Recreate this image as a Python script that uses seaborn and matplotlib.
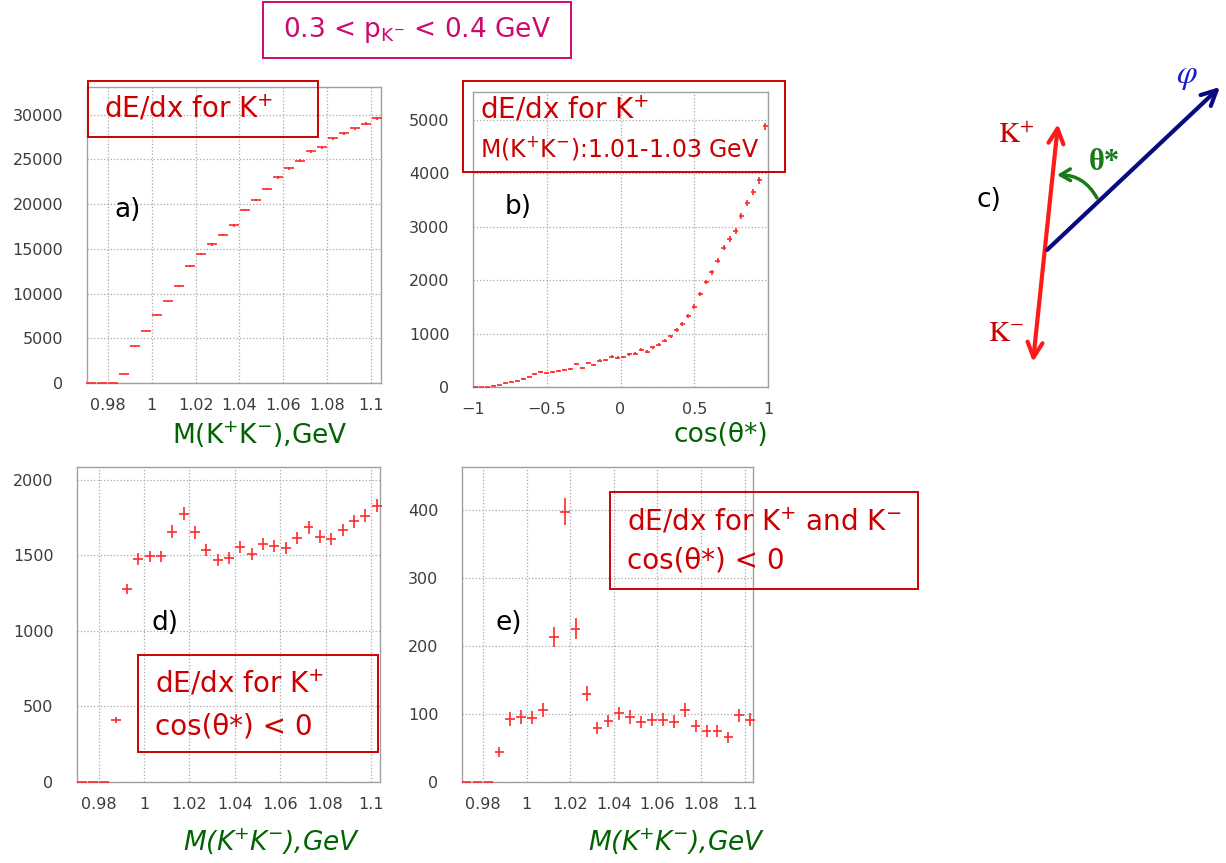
import numpy as np
import pandas as pd
import matplotlib
matplotlib.use("Agg")
import matplotlib.pyplot as plt
from matplotlib.patches import Rectangle
import seaborn as sns

# ---------------- data ----------------
mass_centers = [0.9725, 0.9775, 0.9825, 0.9875, 0.9925, 0.9975, 1.0025, 1.0075, 1.0125,
                1.0175, 1.0225, 1.0275, 1.0325, 1.0375, 1.0425, 1.0475, 1.0525, 1.0575,
                1.0625, 1.0675, 1.0725, 1.0775, 1.0825, 1.0875, 1.0925, 1.0975, 1.1025]
a_counts = [0, 0, 0, 1050, 4110, 5870, 7580, 9120, 10800, 13080, 14420, 15500, 16550, 17630,
            19320, 20470, 21710, 22980, 24020, 24880, 25930, 26340, 27350, 27950, 28510,
            28990, 29630]
a_err = [0, 0, 0, 30, 65, 75, 85, 95, 105, 115, 120, 125, 130, 135, 140, 145, 150, 150,
         155, 160, 160, 165, 165, 170, 170, 170, 170]

cos_centers = [-0.98, -0.94, -0.90, -0.86, -0.82, -0.78, -0.74, -0.70, -0.66, -0.62,
               -0.58, -0.54, -0.50, -0.46, -0.42, -0.38, -0.34, -0.30, -0.26, -0.22,
               -0.18, -0.14, -0.10, -0.06, -0.02, 0.02, 0.06, 0.10, 0.14, 0.18,
               0.22, 0.26, 0.30, 0.34, 0.38, 0.42, 0.46, 0.50, 0.54, 0.58,
               0.62, 0.66, 0.70, 0.74, 0.78, 0.82, 0.86, 0.90, 0.94, 0.98]
b_counts = [0, 0, 6, 25, 35, 69, 100, 119, 150, 194,
            244, 275, 269, 281, 306, 325, 344, 425, 356, 444,
            412, 494, 506, 569, 550, 562, 612, 625, 700, 662,
            744, 794, 862, 950, 1062, 1175, 1325, 1506, 1744, 1962,
            2150, 2362, 2606, 2774, 2918, 3198, 3447, 3647, 3865, 4875]
b_err = [0, 0, 3, 5, 6, 8, 10, 11, 12, 14,
         16, 17, 16, 17, 17, 18, 19, 21, 19, 21,
         20, 22, 22, 24, 23, 24, 25, 25, 26, 26,
         27, 28, 29, 31, 33, 34, 36, 39, 42, 44,
         46, 49, 51, 53, 54, 57, 59, 60, 62, 70]

d_counts = [0, 0, 0, 409, 1277, 1474, 1492, 1492, 1657, 1775, 1651, 1536, 1470, 1481,
            1554, 1507, 1576, 1562, 1547, 1613, 1684, 1624, 1607, 1669, 1724, 1761, 1828]
d_err = [0, 0, 0, 20, 36, 38, 39, 39, 41, 42, 41, 39, 38, 38, 39, 39, 40, 40, 39, 40,
         41, 40, 40, 41, 42, 42, 43]

e_counts = [0, 0, 0, 44, 93, 96, 95, 106, 214, 398, 226, 130, 80, 90, 101, 96, 88, 92,
            92, 89, 106, 83, 75, 75, 66, 98, 92]
e_err = [0, 0, 0, 7, 10, 10, 10, 10, 15, 20, 15, 11, 9, 9, 10, 10, 9, 10, 10, 9, 10, 9,
         9, 9, 8, 10, 10]

mass_ticks = [0.98, 1.0, 1.02, 1.04, 1.06, 1.08, 1.1]
mass_ticklabels = ["0.98", "1", "1.02", "1.04", "1.06", "1.08", "1.1"]
cos_ticks = [-1, -0.5, 0, 0.5, 1]
cos_ticklabels = ["\u22121", "\u22120.5", "0", "0.5", "1"]
a_yticks = [0, 5000, 10000, 15000, 20000, 25000, 30000]
b_yticks = [0, 1000, 2000, 3000, 4000, 5000]
d_yticks = [0, 500, 1000, 1500, 2000]
e_yticks = [0, 100, 200, 300, 400]

# ---------------- style ----------------
sns.set_theme(style="whitegrid", rc={
    "grid.linestyle": ":", "grid.color": "#a8a8a8", "grid.linewidth": 0.9,
    "axes.edgecolor": "#a0a0a0", "axes.linewidth": 1.0,
})
plt.rcParams["font.family"] = ["DejaVu Sans"]

W, H = 1226, 863
fig = plt.figure(figsize=(W / 100, H / 100), dpi=100)
fig.patch.set_facecolor("white")


def rect(l, t, r, b):
    return [l / W, 1 - b / H, (r - l) / W, (b - t) / H]


def fpt(x, y):
    return x / W, 1 - y / H


RED = "#ff2a2a"
TXT_RED = "#cc0000"
GREEN = "#006400"
TICK = "#3c3c3c"


def style_axes(ax, xlim, ylim, xticks, xticklabels, yticks):
    ax.set_xlim(*xlim)
    ax.set_ylim(*ylim)
    ax.set_xticks(xticks)
    ax.set_xticklabels(xticklabels)
    ax.set_yticks(yticks)
    ax.set_yticklabels([str(v) for v in yticks])
    ax.tick_params(axis="both", length=0, labelsize=11.5, labelcolor=TICK)
    ax.tick_params(axis="y", pad=17)
    ax.tick_params(axis="x", pad=11)
    ax.grid(True)
    for s in ax.spines.values():
        s.set_visible(True)
        s.set_color("#a0a0a0")


def draw_hist(ax, x, y, xe, ye):
    df = pd.DataFrame({"x": x, "y": y, "ye": ye})
    cont = ax.errorbar(df["x"], df["y"], xerr=xe, yerr=df["ye"], fmt="none",
                       ecolor=RED, elinewidth=1.2, capsize=0, zorder=4)
    for coll in cont.lines[2]:
        coll.set_clip_on(False)


ax_a = fig.add_axes(rect(87, 87, 381, 383))
ax_b = fig.add_axes(rect(473, 92, 768, 387))
ax_d = fig.add_axes(rect(77, 467, 380, 782))
ax_e = fig.add_axes(rect(462, 467, 753, 782))

draw_hist(ax_a, mass_centers, a_counts, 0.0023, a_err)
style_axes(ax_a, (0.9705, 1.1045), (0, 33100), mass_ticks, mass_ticklabels, a_yticks)

draw_hist(ax_b, cos_centers, b_counts, 0.017, b_err)
style_axes(ax_b, (-1, 1), (0, 5520), cos_ticks, cos_ticklabels, b_yticks)

draw_hist(ax_d, mass_centers, d_counts, 0.0022, d_err)
style_axes(ax_d, (0.9705, 1.104), (0, 2084), mass_ticks, mass_ticklabels, d_yticks)

draw_hist(ax_e, mass_centers, e_counts, 0.0022, e_err)
style_axes(ax_e, (0.9704, 1.1038), (0, 464), mass_ticks, mass_ticklabels, e_yticks)


# ---------------- annotation boxes ----------------
def box(l, t, r, b, color, lw=1.4):
    x0, y0 = fpt(l, b)
    fig.patches.append(Rectangle((x0, y0), (r - l) / W, (b - t) / H, fill=False,
                                 edgecolor=color, linewidth=lw,
                                 transform=fig.transFigure, zorder=10))


def ftext(x, y, s, **kw):
    fx, fy = fpt(x, y)
    fig.text(fx, fy, s, **kw)


MAG = "#cc0a6e"
box(263, 2, 571, 58, MAG)
ftext(417, 30, r"0.3 < p$_{\mathrm{K}^{-}}$ < 0.4 GeV", color=MAG, fontsize=19,
      ha="center", va="center")

box(88, 81, 318, 137, TXT_RED)
ftext(104, 109, r"dE/dx for K$^{+}$", color=TXT_RED, fontsize=20, ha="left", va="center")

box(463, 81, 785, 172, TXT_RED)
ftext(480, 110, r"dE/dx for K$^{+}$", color=TXT_RED, fontsize=20, ha="left", va="center")
ftext(480, 148, r"M(K$^{+}$K$^{-}$):1.01-1.03 GeV", color=TXT_RED, fontsize=17,
      ha="left", va="center")

box(138, 655, 378, 752, TXT_RED)
ftext(155, 684, r"dE/dx for K$^{+}$", color=TXT_RED, fontsize=20, ha="left", va="center")
ftext(155, 726, "cos(\u03b8*) < 0", color=TXT_RED, fontsize=20, ha="left", va="center")

box(610, 492, 918, 589, TXT_RED)
ftext(627, 522, r"dE/dx for K$^{+}$ and K$^{-}$", color=TXT_RED, fontsize=20,
      ha="left", va="center")
ftext(627, 560, "cos(\u03b8*) < 0", color=TXT_RED, fontsize=20, ha="left", va="center")

# panel letters
for (x, y, s) in [(128, 210, "a)"), (518, 207, "b)"), (989, 200, "c)"),
                  (165, 623, "d)"), (509, 623, "e)")]:
    ftext(x, y, s, color="black", fontsize=19, ha="center", va="center")

# axis titles
ftext(260, 435, r"M(K$^{+}$K$^{-}$),GeV", color=GREEN, fontsize=19, ha="center", va="center")
ftext(721, 435, "cos(\u03b8*)", color=GREEN, fontsize=19, ha="center", va="center")
ftext(272, 842, r"M(K$^{+}$K$^{-}$),GeV", color=GREEN, fontsize=19, ha="center",
      va="center", style="italic")
ftext(677, 842, r"M(K$^{+}$K$^{-}$),GeV", color=GREEN, fontsize=19, ha="center",
      va="center", style="italic")

# ---------------- panel c: decay diagram ----------------
ax_c = fig.add_axes([0, 0, 1, 1], zorder=5)
ax_c.set_xlim(0, W)
ax_c.set_ylim(H, 0)
ax_c.axis("off")
ax_c.patch.set_alpha(0)

ax_c.annotate("", xy=(1058, 124), xytext=(1033, 362),
              arrowprops=dict(arrowstyle="<->,head_length=0.9,head_width=0.45",
                              color="#ff1a1a", lw=3, shrinkA=0, shrinkB=0))
ax_c.annotate("", xy=(1220, 87), xytext=(1047, 250),
              arrowprops=dict(arrowstyle="->,head_length=0.9,head_width=0.45",
                              color="#0a0a80", lw=3, shrinkA=0, shrinkB=0))
ax_c.annotate("", xy=(1057, 175), xytext=(1097, 198),
              arrowprops=dict(arrowstyle="->,head_length=0.6,head_width=0.35",
                              color="#1a7a1a", lw=2.5, shrinkA=0, shrinkB=0,
                              connectionstyle="arc3,rad=0.3"))
ax_c.text(1016, 135, r"$\mathrm{K}^{+}$", color="#cc0000", fontsize=21, ha="center",
          va="center", math_fontfamily="stix")
ax_c.text(1006, 333, r"$\mathrm{K}^{-}$", color="#cc0000", fontsize=21, ha="center",
          va="center", math_fontfamily="stix")
ax_c.text(1187, 76, r"$\varphi$", color="#1a1acc", fontsize=24, ha="center",
          va="center", math_fontfamily="stix")
ax_c.text(1104, 163, "\u03b8*", color="#1a7a1a", fontsize=22, ha="center",
          va="center", family="Liberation Serif", fontweight="bold")

fig.savefig("out.png", dpi=100)
